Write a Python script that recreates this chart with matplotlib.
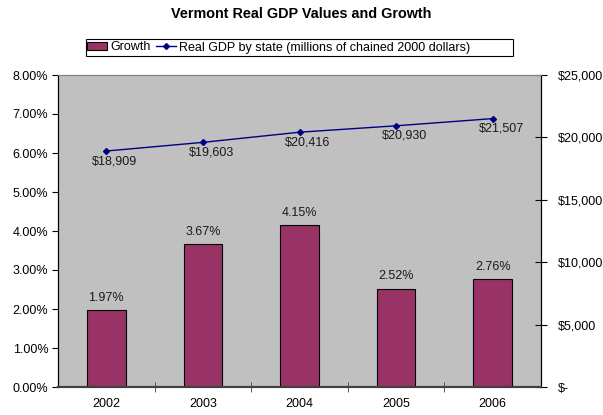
import numpy as np
import matplotlib.pyplot as plt
from matplotlib.ticker import FuncFormatter
from matplotlib.patches import Rectangle

plt.rcParams['font.family'] = ['Liberation Sans', 'DejaVu Sans']

years = ['2002', '2003', '2004', '2005', '2006']
growth = [1.97, 3.67, 4.15, 2.52, 2.76]
gdp = [18909, 19603, 20416, 20930, 21507]

W, H = 603, 415
fig = plt.figure(figsize=(W / 100, H / 100), dpi=100)
ax = fig.add_axes([58 / W, 28 / H, 483 / W, 312 / H])
ax.set_facecolor('#C0C0C0')
x = np.arange(len(years))

bars = ax.bar(x, growth, width=0.4, color='#993366', edgecolor='black', linewidth=0.8,
              label='Growth', zorder=2)
for xi, g in zip(x, growth):
    ax.annotate('%.2f%%' % g, (xi, g), xytext=(0, 4.5), textcoords='offset points',
                ha='center', va='bottom', fontsize=9, color='#1a1a1a')

ax.set_xlim(-0.5, len(years) - 0.5)
ax.set_ylim(0, 8)
ax.set_yticks(np.arange(0, 9, 1))
ax.yaxis.set_major_formatter(FuncFormatter(lambda v, p: '%.2f%%' % v))
ax.set_xticks(x)
ax.set_xticklabels(years)
ax.set_xticks(np.arange(0.5, len(years) - 1, 1), minor=True)
ax.tick_params(axis='x', which='major', length=0, pad=8, labelsize=9)
ax.tick_params(axis='x', which='minor', direction='inout', length=7, color='#404040')
ax.tick_params(axis='y', direction='out', length=4, labelsize=9, pad=3)

ax2 = ax.twinx()
line, = ax2.plot(x, gdp, color='#000080', marker='D', markersize=3, linewidth=1,
                 label='Real GDP by state (millions of chained 2000 dollars)', zorder=3)
for xi, v in zip(x, gdp):
    ax2.annotate('${:,}'.format(v), (xi, v), xytext=(6, -3), textcoords='offset points',
                 ha='center', va='top', fontsize=9, color='#1a1a1a')
ax2.set_ylim(0, 25000)
ax2.set_yticks(np.arange(0, 25001, 5000))
ax2.yaxis.set_major_formatter(FuncFormatter(
    lambda v, p: '$-' if v == 0 else '${:,.0f}'.format(v)))
ax2.tick_params(axis='y', direction='inout', length=8, labelsize=9, pad=8)

for a in (ax, ax2):
    a.spines['top'].set_color('#808080')
    a.spines['left'].set_color('black')
    a.spines['right'].set_color('black')
    a.spines['bottom'].set_color('#404040')
    a.spines['bottom'].set_linewidth(1.5)

fig.suptitle('Vermont Real GDP Values and Growth', y=1 - 14 / H, va='center',
             fontsize=10.4, fontweight='bold')

# legend frame drawn as in the Excel original (extra room on the right)
fig.patches.append(Rectangle((86 / W, 1 - 56 / H), 427 / W, 17 / H, transform=fig.transFigure,
                             facecolor='white', edgecolor='black', linewidth=0.8))
fig.legend([bars, line], [bars.get_label(), line.get_label()], loc='center left',
           bbox_to_anchor=(86 / W, 1 - 47.5 / H), ncol=2, fontsize=9, frameon=False,
           handlelength=1.6, handletextpad=0.25, columnspacing=0.4,
           borderpad=0, borderaxespad=0.1)

fig.savefig('out.png', dpi=100)
